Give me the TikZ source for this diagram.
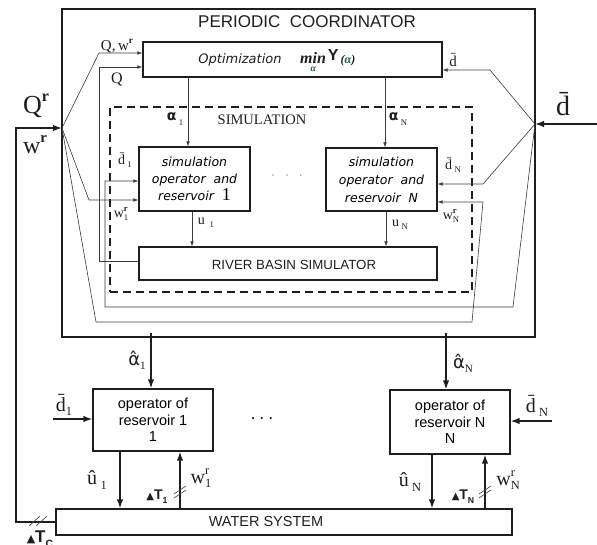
\documentclass[tikz,border=0pt]{standalone}
\usepackage{fontspec}
\setmainfont{Liberation Serif}
\setsansfont{Liberation Sans}
\newfontfamily\djsans{DejaVu Sans}
\usetikzlibrary{arrows.meta,calc}
\definecolor{ln}{RGB}{60,60,60}
\definecolor{bx}{RGB}{30,30,30}
\definecolor{dkgreen}{RGB}{30,95,55}
\newcommand\fsz[2]{\fontsize{#1}{#2}\selectfont}
\newcommand\lsb[2][0.5ex]{\raisebox{-#1}{\scalebox{0.62}{#2}}}
\newcommand\lsp[2][1.0ex]{\raisebox{#1}{\scalebox{0.62}{#2}}}
\begin{document}
\begin{tikzpicture}[x=1pt,y=-1pt,
  box/.style={draw=bx,line width=1.2pt,rectangle,inner sep=0pt},
  wire/.style={draw=ln,line width=0.6pt,-{Latex[length=5pt,width=3.6pt]}},
  fat/.style={draw=bx,line width=1.6pt,-{Latex[length=9pt,width=6.5pt]}},
  slashmk/.style={draw=ln,line width=0.6pt},
  lbl/.style={inner sep=0pt,text=bx}]
\useasboundingbox (0,0) rectangle (597,544);

% ---------- boxes ----------
\node[box,line width=1.1pt,minimum width=473pt,minimum height=328pt] (coord) at (298.5,173) {};
\draw[bx,line width=1.8pt] (coord.north west) -- (coord.south west);
\node[lbl,font=\sffamily\fsz{17}{17}] (title) at (307,22) {PERIODIC\ \ COORDINATOR};

\node[box,minimum width=299pt,minimum height=35pt] (opt) at (292.5,59.5) {};
\node[lbl,font=\djsans\itshape\fsz{13}{13}] (optt) at (240,60) {Optimization};
\node[lbl,anchor=base west] (miny) at (300,63) {{\bfseries\itshape\fsz{16}{16}m\rlap{\hspace{-2pt}\raisebox{-1.1ex}{\color{dkgreen}\scalebox{0.6}{α}}}in}\hspace{2pt}{\sffamily\bfseries\fsz{16}{16}\raisebox{0.35ex}{Y}}\hspace{2pt}{\bfseries\itshape\fsz{12}{12}(\textcolor{dkgreen}{α})}};

\node[draw=bx,line width=1.1pt,dash pattern=on 8pt off 5pt,minimum width=362pt,minimum height=185pt,inner sep=0pt] (sim) at (291,199.5) {};
\node[lbl,font=\fsz{14.5}{14.5}] (simt) at (262,120) {SIMULATION};

\node[box,minimum width=111pt,minimum height=64pt,align=center,font=\djsans\itshape\fsz{12.5}{17}] (s1) at (194.5,179) {simulation\\operator\ \ and\\reservoir\ \ {\normalfont\rmfamily\fsz{18}{17}1}};
\node[box,minimum width=111pt,minimum height=63pt,align=center,font=\djsans\itshape\fsz{12.5}{18}] (sN) at (381.5,179.5) {simulation\\operator\ \ and\\reservoir\ \ N};

\node[box,minimum width=298pt,minimum height=33pt] (rbs) at (288,263.5) {};
\node[lbl,font=\sffamily\fsz{13.3}{13.3}] (rbst) at (294,265) {RIVER BASIN SIMULATOR};

\node[box,minimum width=120pt,minimum height=62pt,align=center,font=\sffamily\fsz{14.5}{16.5}] (op1) at (153,420) {operator of\\reservoir 1\\1};
\node[box,minimum width=120pt,minimum height=64pt,align=center,font=\sffamily\fsz{14.5}{16.5}] (opN) at (450,422) {operator of\\reservoir N\\N};

\node[box,minimum width=456pt,minimum height=26pt] (ws) at (284,522) {};
\node[lbl,font=\sffamily\fsz{14.5}{14.5}] (wst) at (266,522) {WATER SYSTEM};

% ---------- coordinates ----------
\coordinate (jl) at (62,128);
\coordinate (jr) at (535,124);
\coordinate (fb) at (16,128);
\coordinate (din) at (597,124);
\coordinate (qw) at (99,53);
\coordinate (qc) at (99,67);
\coordinate (qb) at (99,261);
\coordinate (w1c) at (89,200);
\coordinate (wNa) at (96,322);
\coordinate (wNb) at (472,322);
\coordinate (wNc) at (483,202);
\coordinate (dop) at (490,70);
\coordinate (dNc) at (483,184);
\coordinate (d1a) at (513,307);
\coordinate (d1b) at (105,307);
\coordinate (d1c) at (105,181);
\coordinate (a1) at (188,0);
\coordinate (aN) at (385,0);
\coordinate (u1) at (192,0);
\coordinate (uN) at (386,0);
\coordinate (ah1) at (151,333);
\coordinate (ahN) at (446,333);
\coordinate (dl1) at (53,419);
\coordinate (dlN) at (552,421);
\coordinate (uh1) at (120,0);
\coordinate (wr1) at (180,0);
\coordinate (uhN) at (432,0);
\coordinate (wrN) at (485,0);

% ---------- connectors ----------
\draw[fat] (ws.west) -| (fb) -- (jl);
\draw[fat] (din) -- (jr);
\draw[wire] (jl) -- (qw) -- (qw -| opt.west);
\draw[wire] (qb -| rbs.west) -- (qb) -- (qc) -- (qc -| opt.west);
\draw[wire] (jl) -- (w1c) -- (w1c -| s1.west);
\draw[wire] (jl) -- (wNa) -- (wNb) -- (wNc) -- (wNc -| sN.east);
\draw[wire] (jr) -- (dop) -- (dop -| opt.east);
\draw[wire] (jr) -- (dNc) -- (dNc -| sN.east);
\draw[wire] (jr) -- (d1a) -- (d1b) -- (d1c) -- (d1c -| s1.west);
\draw[wire] (opt.south -| a1) -- (s1.north -| a1);
\draw[wire] (opt.south -| aN) -- (sN.north -| aN);
\draw[wire] (s1.south -| u1) -- (rbs.north -| u1);
\draw[wire] (sN.south -| uN) -- (rbs.north -| uN);

\draw[fat] (ah1) -- (ah1 |- op1.north);
\draw[fat] (ahN) -- (ahN |- opN.north);
\draw[fat] (dl1) -- (dl1 -| op1.west);
\draw[fat] (dlN) -- (dlN -| opN.east);
\draw[fat] (op1.south -| uh1) -- (ws.north -| uh1);
\draw[fat] (ws.north -| wr1) -- (op1.south -| wr1);
\draw[fat] (opN.south -| uhN) -- (ws.north -| uhN);
\draw[fat] (ws.north -| wrN) -- (opN.south -| wrN);

% slash marks
\draw[slashmk] (174,494) -- (186,486) (174,498) -- (186,490);
\draw[slashmk] (479,494) -- (491,486) (479,498) -- (491,490);
\draw[slashmk] (29,526) -- (40,516) (36,526) -- (47,516);

% ---------- labels ----------
\node[lbl,font=\fsz{15}{15}] (lqw) at (117,46) {Q,\,w\lsp{\textbf{r}}};
\node[lbl,font=\fsz{16}{16}] (lq) at (117,79) {Q};
\node[lbl,font=\fsz{15}{15}] (ldo) at (453,60) {\={d}};
\node[lbl,font=\fsz{26}{26}] (lqr) at (36,106) {Q\lsp{\textbf{r}}};
\node[lbl,font=\fsz{24}{24}] (lwr) at (35,145) {w\lsp{\textbf{r}}};
\node[lbl,font=\fsz{28}{28}] (ldbig) at (563,104) {\={d}};

\node[lbl,font=\fsz{14}{14}] (la1) at (175,119) {{\djsans\bfseries α}\,\lsb[0.9ex]{1}};
\node[lbl,font=\fsz{14}{14}] (laN) at (398,119) {{\djsans\bfseries α}\,\lsb[0.9ex]{N}};
\node[lbl,font=\fsz{14}{14}] (ld1) at (125,160) {\={d}\,\lsb{1}};
\node[lbl,font=\fsz{14}{14}] (lw1) at (121,214) {w\rlap{\lsp{\textbf{r}}}\lsb{1}};
\node[lbl,font=\fsz{14}{14}] (lu1) at (206,223) {u\,\,\lsb{1}};
\node[lbl,font=\fsz{14}{14}] (luN) at (400,225) {u\,\lsb{N}};
\node[lbl,font=\fsz{14}{14}] (ldN) at (453,165) {\={d}\,\lsb{N}};
\node[lbl,font=\fsz{14}{14}] (lwN) at (451,216) {w\rlap{\lsp{\textbf{r}}}\lsb{N}};
\node[lbl,text=gray,font=\fsz{12}{12}] (dots1) at (287,177) {·\hspace{10pt}·\hspace{10pt}·};

\node[lbl,font=\fsz{18}{18}] (lah1) at (137,360) {{\djsans\^{α}}\lsb{1}};
\node[lbl,font=\fsz{18}{18}] (lahN) at (463,363) {{\djsans\^{α}}\lsb{N}};
\node[lbl,font=\fsz{20}{20}] (ldl1) at (64,405) {\={d}\lsb{1}};
\node[lbl,font=\fsz{20}{20}] (ldlN) at (537,406) {\={d}\,\lsb{N}};
\node[lbl,font=\fsz{20}{20}] (luh1) at (97,480) {\^{u}\,\lsb{1}};
\node[lbl,font=\fsz{20}{20}] (lwr1) at (201,478) {w\rlap{\lsp{r}}\lsb{1}};
\node[lbl,font=\fsz{20}{20}] (luhN) at (410,482) {\^{u}\,\lsb{N}};
\node[lbl,font=\fsz{20}{20}] (lwrN) at (508,480) {w\rlap{\lsp{r}}\lsb{N}};
\node[lbl,font=\fsz{18}{18}] (dots2) at (262,421) {·\hspace{3pt}·\hspace{3pt}·};

\node[lbl,font=\sffamily\bfseries\fsz{14}{14}] (lt1) at (157,497) {{\djsans\fsz{10}{10}▲}T\lsb{1}};
\node[lbl,font=\sffamily\bfseries\fsz{14}{14}] (ltN) at (463,497) {{\djsans\fsz{10}{10}▲}T\lsb{N}};
\node[lbl,font=\sffamily\bfseries\fsz{17}{17}] (ltc) at (40,539) {{\djsans\fsz{11}{11}▲}T\lsb{C}};
\end{tikzpicture}
\end{document}
